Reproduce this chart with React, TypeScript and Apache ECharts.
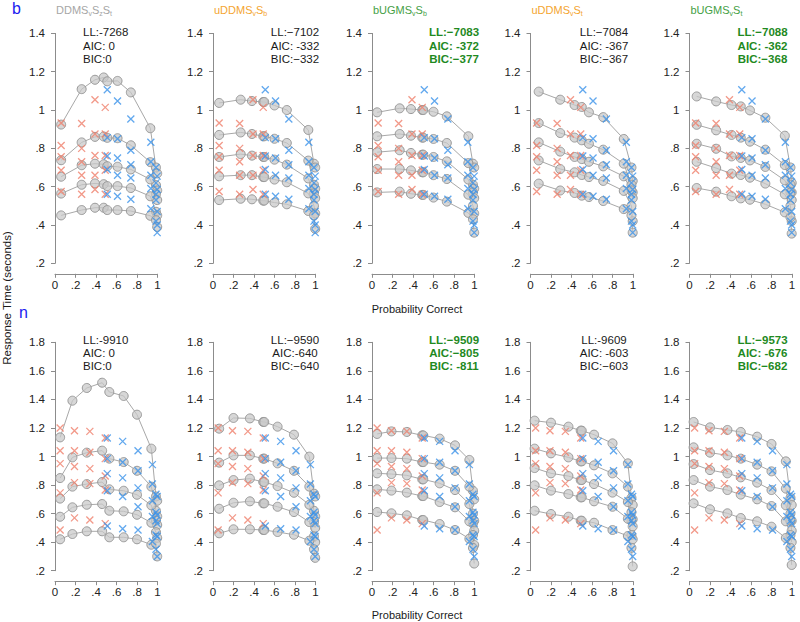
import React, { useEffect, useRef } from 'react';
import * as echarts from 'echarts';

// ---------- observed data (same in every panel of a row) ----------
// error responses (red crosses): x = P(error) positions, each entry = RT quantiles .9,.7,.5,.3,.1
const TOP_ERR_X = [0.06, 0.26, 0.39, 0.49];
const TOP_ERR_RT = [
  [0.932, 0.815, 0.756, 0.686, 0.575],
  [0.93, 0.8, 0.73, 0.66, 0.56],
  [1.054, 0.875, 0.763, 0.66, 0.585],
  [1.014, 0.875, 0.763, 0.686, 0.56],
];
const TOP_COR_X = [0.51, 0.61, 0.74, 0.935, 0.985, 0.997];
const TOP_COR_RT = [
  [1.106, 0.856, 0.76, 0.69, 0.56],
  [1.047, 0.85, 0.75, 0.66, 0.55],
  [0.953, 0.79, 0.714, 0.645, 0.534],
  [0.832, 0.73, 0.66, 0.59, 0.485],
  [0.7, 0.62, 0.56, 0.53, 0.42],
  [0.655, 0.585, 0.47, 0.4, 0.36],
];
const BOT_ERR_X = [0.05, 0.19, 0.34, 0.49];
const BOT_ERR_RT = [
  [1.2, 1.04, 0.95, 0.745, 0.485],
  [1.18, 1.04, 0.93, 0.817, 0.57],
  [1.176, 1.03, 0.915, 0.81, 0.555],
  [1.13, 0.985, 0.863, 0.765, 0.53],
];
const BOT_COR_X = [0.51, 0.66, 0.81, 0.95, 0.985, 0.997];
const BOT_COR_RT = [
  [1.13, 0.985, 0.88, 0.76, 0.513],
  [1.106, 0.96, 0.85, 0.72, 0.494],
  [1.04, 0.9, 0.78, 0.648, 0.485],
  [0.943, 0.807, 0.69, 0.58, 0.405],
  [0.735, 0.61, 0.55, 0.45, 0.35],
  [0.72, 0.59, 0.53, 0.44, 0.3],
];

// ---------- model predictions: x positions and rows of quantiles .9,.7,.5,.3,.1 ----------
const B_DDMS_X = [0.06, 0.26, 0.39, 0.475, 0.51, 0.61, 0.74, 0.93, 0.985, 0.997];
const B_DDMS_RT = [
  [0.924, 1.109, 1.158, 1.17, 1.15, 1.152, 1.092, 0.905, 0.7, 0.669],
  [0.738, 0.831, 0.86, 0.862, 0.855, 0.853, 0.816, 0.728, 0.608, 0.58],
  [0.652, 0.712, 0.72, 0.717, 0.707, 0.704, 0.69, 0.638, 0.56, 0.53],
  [0.564, 0.61, 0.617, 0.613, 0.603, 0.603, 0.593, 0.55, 0.469, 0.45],
  [0.45, 0.478, 0.49, 0.49, 0.478, 0.478, 0.473, 0.448, 0.425, 0.39],
];
const B_UDDMS_SB_X = [0.06, 0.27, 0.38, 0.49, 0.5, 0.6, 0.72, 0.93, 0.985, 0.997];
const B_UDDMS_SB_RT = [
  [1.037, 1.054, 1.047, 1.042, 1.042, 1.024, 1.0, 0.896, 0.72, 0.7],
  [0.87, 0.883, 0.875, 0.863, 0.863, 0.85, 0.828, 0.736, 0.61, 0.59],
  [0.755, 0.77, 0.762, 0.755, 0.755, 0.741, 0.715, 0.643, 0.565, 0.54],
  [0.654, 0.66, 0.66, 0.65, 0.65, 0.637, 0.623, 0.565, 0.5, 0.46],
  [0.53, 0.537, 0.534, 0.527, 0.527, 0.517, 0.508, 0.473, 0.45, 0.38],
];
const B_BUGMS_SB_X = [0.05, 0.27, 0.38, 0.49, 0.5, 0.6, 0.73, 0.94, 0.985, 0.997];
const B_BUGMS_SB_RT = [
  [0.988, 1.009, 1.005, 1.0, 1.0, 0.991, 0.967, 0.863, 0.72, 0.7],
  [0.863, 0.875, 0.866, 0.856, 0.856, 0.849, 0.828, 0.723, 0.61, 0.59],
  [0.78, 0.79, 0.776, 0.767, 0.767, 0.755, 0.732, 0.637, 0.57, 0.54],
  [0.692, 0.692, 0.685, 0.675, 0.675, 0.66, 0.64, 0.558, 0.5, 0.46],
  [0.57, 0.574, 0.563, 0.557, 0.557, 0.543, 0.522, 0.463, 0.43, 0.36],
];
const B_UDDMS_ST_X = [0.08, 0.29, 0.43, 0.5, 0.57, 0.71, 0.91, 0.985, 0.997];
const B_UDDMS_ST_RT = [
  [1.096, 1.054, 1.026, 1.016, 0.988, 0.963, 0.849, 0.7, 0.63],
  [0.932, 0.88, 0.856, 0.842, 0.824, 0.793, 0.72, 0.61, 0.57],
  [0.831, 0.783, 0.755, 0.744, 0.73, 0.706, 0.654, 0.58, 0.54],
  [0.737, 0.692, 0.675, 0.661, 0.65, 0.63, 0.578, 0.5, 0.42],
  [0.616, 0.58, 0.567, 0.553, 0.546, 0.525, 0.483, 0.45, 0.36],
];
const B_BUGMS_ST_X = [0.07, 0.26, 0.41, 0.5, 0.59, 0.74, 0.93, 0.985, 0.997];
const B_BUGMS_ST_RT = [
  [1.071, 1.045, 1.026, 1.019, 0.998, 0.96, 0.866, 0.7, 0.62],
  [0.923, 0.894, 0.87, 0.856, 0.835, 0.793, 0.713, 0.61, 0.57],
  [0.824, 0.798, 0.758, 0.75, 0.737, 0.703, 0.633, 0.57, 0.53],
  [0.73, 0.697, 0.668, 0.661, 0.647, 0.616, 0.56, 0.5, 0.42],
  [0.593, 0.574, 0.55, 0.539, 0.532, 0.508, 0.466, 0.44, 0.355],
];
const N_DDMS_X = [0.05, 0.17, 0.31, 0.46, 0.53, 0.67, 0.8, 0.94, 0.985, 0.997];
const N_DDMS_RT = [
  [1.134, 1.391, 1.48, 1.517, 1.452, 1.424, 1.293, 1.055, 0.72, 0.69],
  [0.849, 0.994, 1.027, 1.041, 0.985, 0.961, 0.9, 0.789, 0.62, 0.58],
  [0.705, 0.789, 0.807, 0.821, 0.77, 0.76, 0.732, 0.658, 0.55, 0.52],
  [0.578, 0.644, 0.662, 0.667, 0.62, 0.616, 0.592, 0.536, 0.47, 0.43],
  [0.42, 0.457, 0.476, 0.476, 0.434, 0.434, 0.42, 0.382, 0.39, 0.3],
];
const N_UDDMS_SB_X = [0.06, 0.2, 0.36, 0.49, 0.5, 0.63, 0.79, 0.94, 0.985, 0.997];
const N_UDDMS_SB_RT = [
  [1.195, 1.27, 1.267, 1.242, 1.242, 1.209, 1.153, 0.999, 0.74, 0.72],
  [0.957, 1.008, 1.008, 0.985, 0.985, 0.952, 0.9, 0.789, 0.62, 0.58],
  [0.798, 0.835, 0.845, 0.821, 0.821, 0.793, 0.746, 0.662, 0.54, 0.5],
  [0.634, 0.676, 0.686, 0.672, 0.672, 0.648, 0.611, 0.541, 0.44, 0.4],
  [0.462, 0.49, 0.49, 0.485, 0.485, 0.471, 0.452, 0.41, 0.35, 0.29],
];
const N_BUGMS_SB_X = [0.05, 0.19, 0.34, 0.49, 0.5, 0.66, 0.81, 0.95, 0.985, 0.997];
const N_BUGMS_SB_RT = [
  [1.158, 1.176, 1.172, 1.148, 1.148, 1.125, 1.078, 0.976, 0.76, 0.7],
  [0.989, 0.989, 0.985, 0.961, 0.961, 0.943, 0.9, 0.789, 0.6, 0.55],
  [0.882, 0.877, 0.868, 0.84, 0.84, 0.812, 0.765, 0.667, 0.53, 0.48],
  [0.77, 0.761, 0.747, 0.723, 0.723, 0.681, 0.644, 0.546, 0.45, 0.38],
  [0.611, 0.602, 0.588, 0.555, 0.555, 0.527, 0.485, 0.424, 0.36, 0.25],
];
const N_UDDMS_ST_X = [0.04, 0.2, 0.37, 0.49, 0.5, 0.62, 0.8, 0.95, 0.985, 0.997];
const N_UDDMS_ST_RT = [
  [1.251, 1.237, 1.209, 1.181, 1.181, 1.153, 1.092, 0.952, 0.71, 0.66],
  [1.055, 1.022, 0.994, 0.966, 0.966, 0.938, 0.882, 0.789, 0.61, 0.56],
  [0.919, 0.882, 0.863, 0.835, 0.835, 0.807, 0.747, 0.681, 0.55, 0.51],
  [0.798, 0.761, 0.737, 0.714, 0.714, 0.686, 0.648, 0.564, 0.45, 0.42],
  [0.62, 0.597, 0.578, 0.55, 0.55, 0.536, 0.485, 0.443, 0.36, 0.23],
];
const N_BUGMS_ST_X = [0.04, 0.2, 0.37, 0.5, 0.66, 0.8, 0.94, 0.985, 0.997];
const N_BUGMS_ST_RT = [
  [1.242, 1.204, 1.186, 1.172, 1.139, 1.088, 0.966, 0.71, 0.66],
  [1.064, 1.027, 1.008, 0.985, 0.943, 0.896, 0.775, 0.6, 0.55],
  [0.947, 0.905, 0.882, 0.854, 0.817, 0.765, 0.658, 0.55, 0.48],
  [0.835, 0.789, 0.765, 0.733, 0.7, 0.653, 0.546, 0.45, 0.4],
  [0.672, 0.63, 0.602, 0.569, 0.546, 0.508, 0.429, 0.36, 0.24],
];

// ---------- texts ----------
const MODEL_TITLES = [
  '{a|DDMS}{s|v}{a|S}{s|z}{a|S}{s|t}',
  '{a|uDDMS}{s|v}{a|S}{s|b}',
  '{a|bUGMS}{s|v}{a|S}{s|b}',
  '{a|uDDMS}{s|v}{a|S}{s|t}',
  '{a|bUGMS}{s|v}{a|S}{s|t}',
];
const TITLE_COLORS = ['#a6a6a6', '#f4a530', '#45a045', '#f4a530', '#45a045'];
const TOP_STATS = [
  ['LL:-7268', 'AIC: 0', 'BIC:0'],
  ['LL:\u22127102', 'AIC: -332', 'BIC:\u2212332'],
  ['LL:\u22127083', 'AIC: -372', 'BIC:\u2212377'],
  ['LL:\u22127084', 'AIC: -367', 'BIC:\u2212367'],
  ['LL:\u22127088', 'AIC: -362', 'BIC:\u2212368'],
];
const BOT_STATS = [
  ['LL:-9910', 'AIC: 0', 'BIC:0'],
  ['LL:\u22129590', 'AIC:-640', 'BIC:\u2212640'],
  ['LL:\u22129509', 'AIC:\u2212805', 'BIC: -811'],
  ['LL:-9609', 'AIC: -603', 'BIC:\u2212603'],
  ['LL:\u22129573', 'AIC: -676', 'BIC:\u2212682'],
];
const BEST_MODEL = [false, false, true, false, true];
const ROW_LABELS = ['b', 'n'];
const X_TITLE = 'Probability Correct';
const Y_TITLE = 'Response Time (seconds)';
const Y_MAX = [1.4, 1.8];

// ---------- layout ----------
const COL_LEFT = [55, 213, 372, 530.5, 689.5];
const PLOT_W = 102.5;
const ROW_TOP = [33.4, 342.3];
const ROW_H = [229.9, 228.4];
const STAT_X = [83, 295, 454, 604, 762.5];
const STAT_Y = [32.3, 339.5];
const FONT = '"Liberation Sans", Arial, sans-serif';

const fmt = (v: number) => {
  const s = String(Math.round(v * 10) / 10);
  return s.startsWith('0.') ? s.slice(1) : s;
};

const CROSS = 'path://M0,0L10,10M10,0L0,10';

function buildOption() {
  const models = [
    [B_DDMS_X, B_DDMS_RT], [B_UDDMS_SB_X, B_UDDMS_SB_RT], [B_BUGMS_SB_X, B_BUGMS_SB_RT],
    [B_UDDMS_ST_X, B_UDDMS_ST_RT], [B_BUGMS_ST_X, B_BUGMS_ST_RT],
    [N_DDMS_X, N_DDMS_RT], [N_UDDMS_SB_X, N_UDDMS_SB_RT], [N_BUGMS_SB_X, N_BUGMS_SB_RT],
    [N_UDDMS_ST_X, N_UDDMS_ST_RT], [N_BUGMS_ST_X, N_BUGMS_ST_RT],
  ] as [number[], number[][]][];
  const obs = [
    [TOP_ERR_X, TOP_ERR_RT, TOP_COR_X, TOP_COR_RT],
    [BOT_ERR_X, BOT_ERR_RT, BOT_COR_X, BOT_COR_RT],
  ] as [number[], number[][], number[], number[][]][];

  const grid: any[] = [];
  const xAxis: any[] = [];
  const yAxis: any[] = [];
  const series: any[] = [];
  const graphic: any[] = [];

  for (let p = 0; p < 10; p++) {
    const row = Math.floor(p / 5);
    const col = p % 5;
    grid.push({ left: COL_LEFT[col], top: ROW_TOP[row], width: PLOT_W, height: ROW_H[row], containLabel: false });
    xAxis.push({
      type: 'value', gridIndex: p, min: 0, max: 1, interval: 0.2, offset: 10.5,
      axisLine: { show: true, lineStyle: { color: '#8c8c8c', width: 1 } },
      axisTick: { show: true, length: 4, lineStyle: { color: '#8c8c8c' } },
      axisLabel: { formatter: fmt, color: '#222', fontSize: 11.5, fontFamily: FONT, margin: 5 },
      splitLine: { show: false },
    });
    yAxis.push({
      type: 'value', gridIndex: p, min: 0.2, max: Y_MAX[row], interval: 0.2, offset: 5,
      axisLine: { show: true, lineStyle: { color: '#8c8c8c', width: 1 } },
      axisTick: { show: true, length: 4, lineStyle: { color: '#8c8c8c' } },
      axisLabel: { formatter: fmt, color: '#222', fontSize: 11.5, fontFamily: FONT, margin: 5 },
      splitLine: { show: false },
    });
    const [mx, mrt] = models[p];
    for (let q = 0; q < 5; q++) {
      series.push({
        type: 'line', xAxisIndex: p, yAxisIndex: p, z: 2,
        data: mx.map((x, j) => [x, mrt[q][j]]),
        symbol: 'circle', symbolSize: 9, showSymbol: true,
        lineStyle: { color: '#a8a8a8', width: 1 },
        itemStyle: { color: 'rgba(200,200,200,0.72)', borderColor: '#9a9a9a', borderWidth: 1 },
        silent: true,
      });
    }
    const [ex, ert, cx, crt] = obs[row];
    const errPts: number[][] = [];
    ex.forEach((x, j) => ert[j].forEach((v) => errPts.push([x, v])));
    const corPts: number[][] = [];
    cx.forEach((x, j) => crt[j].forEach((v) => corPts.push([x, v])));
    series.push({
      type: 'scatter', xAxisIndex: p, yAxisIndex: p, z: 3, data: errPts,
      symbol: CROSS, symbolSize: 7,
      itemStyle: { color: '#ef7f6c', borderColor: '#ef7f6c', borderWidth: 1.3 },
    });
    series.push({
      type: 'scatter', xAxisIndex: p, yAxisIndex: p, z: 3, data: corPts,
      symbol: CROSS, symbolSize: 7,
      itemStyle: { color: '#3a92ea', borderColor: '#3a92ea', borderWidth: 1.3 },
    });

    // stats text
    const stats = row === 0 ? TOP_STATS[col] : BOT_STATS[col];
    const best = BEST_MODEL[col];
    stats.forEach((t, k) => {
      graphic.push({
        type: 'text', x: STAT_X[col], y: STAT_Y[row] + k * 13.3,
        style: {
          text: t, fill: best ? '#1f8a1f' : '#1a1a1a', fontSize: 11.5,
          fontWeight: best ? 'bold' : 'normal', fontFamily: FONT,
          align: col === 0 ? 'left' : 'center', verticalAlign: 'middle',
        },
      });
    });
  }

  // model titles
  MODEL_TITLES.forEach((t, c) => {
    graphic.push({
      type: 'text', x: COL_LEFT[c] + 1, y: 3,
      style: {
        text: t,
        rich: {
          a: { fontSize: 11, fill: TITLE_COLORS[c], fontFamily: FONT, lineHeight: 14, verticalAlign: 'middle' },
          s: { fontSize: 7, fill: TITLE_COLORS[c], fontFamily: FONT, lineHeight: 6, verticalAlign: 'bottom' },
        },
      },
    });
  });
  // row labels
  graphic.push({
    type: 'text', x: 12, y: 8,
    style: { text: ROW_LABELS[0], fill: '#1c1cf0', fontSize: 16, fontFamily: FONT, verticalAlign: 'middle' },
  });
  graphic.push({
    type: 'text', x: 19, y: 312,
    style: { text: ROW_LABELS[1], fill: '#1c1cf0', fontSize: 16, fontFamily: FONT, verticalAlign: 'middle' },
  });
  // axis titles
  [309, 615].forEach((y) => {
    graphic.push({
      type: 'text', x: 417, y,
      style: { text: X_TITLE, fill: '#1a1a1a', fontSize: 11, fontFamily: FONT, align: 'center', verticalAlign: 'middle' },
    });
  });
  graphic.push({
    type: 'text', x: 7, y: 298, rotation: Math.PI / 2,
    style: { text: Y_TITLE, fill: '#1a1a1a', fontSize: 11.5, fontFamily: FONT, align: 'center', verticalAlign: 'middle' },
  });

  return {
    animation: false,
    backgroundColor: '#ffffff',
    textStyle: { fontFamily: FONT },
    grid, xAxis, yAxis, series, graphic,
  };
}

export default function App() {
  const ref = useRef<HTMLDivElement>(null);
  useEffect(() => {
    document.body.style.margin = '0';
    if (!ref.current) return;
    const chart = echarts.init(ref.current, undefined, { renderer: 'svg' });
    chart.setOption(buildOption());
    return () => chart.dispose();
  }, []);
  return <div ref={ref} style={{ width: 800, height: 622 }} />;
}
